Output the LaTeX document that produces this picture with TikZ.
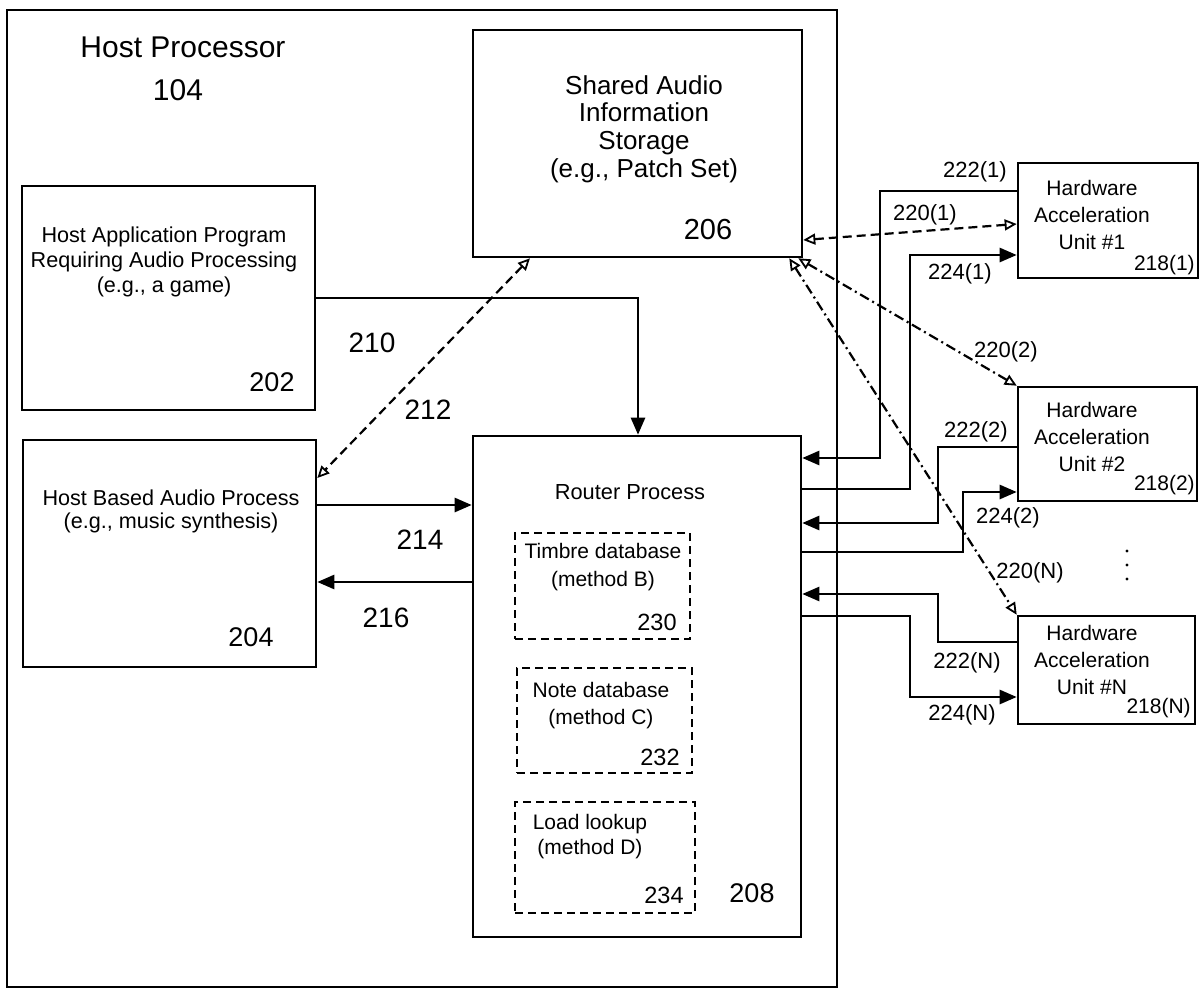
\documentclass[tikz,border=0pt]{standalone}
\usepackage{fontspec}
\setmainfont{Liberation Sans}
\usetikzlibrary{arrows.meta}
\newcommand\fsz[2]{\fontsize{#1}{#2}\selectfont}
\begin{document}
\begin{tikzpicture}[x=1pt,y=-1pt,line width=2.6pt,
  box/.style={draw,rectangle,inner sep=0pt},
  dbox/.style={draw,rectangle,inner sep=0pt,line width=2.2pt,dash pattern=on 8pt off 5pt},
  txt/.style={inner sep=0pt,align=center},
  lbl/.style={inner sep=0pt,font=\fsz{22}{26}},
  num/.style={inner sep=0pt,font=\fsz{27}{30}},
  arr/.style={-{Triangle[length=17pt,width=14pt]}},
  oarr/.style={{Triangle[open,length=12pt,width=11pt,line width=1.8pt]}-{Triangle[open,length=12pt,width=11pt,line width=1.8pt]},line width=2.2pt},
  dsh/.style={dash pattern=on 9pt off 5pt},
  dshdot/.style={dash pattern=on 10pt off 4pt on 2pt off 4pt}]
\useasboundingbox (0,0) rectangle (1200,990);
\fill[white] (0,0) rectangle (1200,990);

% boxes
\node[box,minimum width=830pt,minimum height=977pt] (host) at (422,498.5) {};
\node[box,minimum width=329pt,minimum height=227pt] (n206) at (637.5,143.5) {};
\node[box,minimum width=293pt,minimum height=224pt] (n202) at (168.5,298) {};
\node[box,minimum width=293pt,minimum height=227pt] (n204) at (169.5,553.5) {};
\node[box,minimum width=328pt,minimum height=501pt] (n208) at (637,686.5) {};
\node[dbox,minimum width=175pt,minimum height=106pt] (n230) at (602.5,586) {};
\node[dbox,minimum width=175pt,minimum height=105pt] (n232) at (604.5,720.5) {};
\node[dbox,minimum width=180pt,minimum height=111pt] (n234) at (605,857.5) {};
\node[box,minimum width=180pt,minimum height=115pt] (hw1) at (1108,220.5) {};
\node[box,minimum width=179pt,minimum height=114pt] (hw2) at (1107.5,444) {};
\node[box,minimum width=177pt,minimum height=108pt] (hwN) at (1106.5,670) {};

% texts
\node[txt,font=\fsz{30}{34}] (tHost) at (183,47) {Host Processor};
\node[txt,font=\fsz{30}{34}] (t104) at (178,90) {104};
\node[txt,font=\fsz{26}{27.7}] (t206a) at (644,129) {Shared Audio\\Information\\Storage\\(e.g., Patch Set)};
\node[txt,font=\fsz{29}{32}] (t206) at (708,230) {206};
\node[txt,font=\fsz{21.6}{25}] (t202a) at (164,262) {Host Application Program\\Requiring Audio Processing\\(e.g., a game)};
\node[num] (t202) at (272,382) {202};
\node[txt,font=\fsz{21.6}{23}] (t204a) at (171,511) {Host Based Audio Process\\(e.g., music synthesis)};
\node[num] (t204) at (251,637) {204};
\node[txt,font=\fsz{21.8}{26}] (tRouter) at (630,492) {Router Process};
\node[txt,font=\fsz{21}{28}] (t230a) at (603,567) {Timbre database\\(method B)};
\node[txt,font=\fsz{23.5}{26}] (t230) at (657,622) {230};
\node[txt,font=\fsz{21}{27}] (t232a) at (601,706) {Note database\\(method C)};
\node[txt,font=\fsz{23.5}{26}] (t232) at (660,757) {232};
\node[txt,font=\fsz{21}{25}] (t234a) at (590,837) {Load lookup\\(method D)};
\node[txt,font=\fsz{23.5}{26}] (t234) at (664,895) {234};
\node[num] (t208) at (752,893) {208};
\node[txt,font=\fsz{21}{27}] (thw1) at (1092,215) {Hardware\\Acceleration\\Unit \#1};
\node[txt,font=\fsz{21}{27}] (thw2) at (1092,436.5) {Hardware\\Acceleration\\Unit \#2};
\node[txt,font=\fsz{21}{27}] (thwN) at (1092,660) {Hardware\\Acceleration\\Unit \#N};
\node[lbl,anchor=east,font=\fsz{21}{24}] (t2181) at (1196,265) {218(1)};
\node[lbl,anchor=east,font=\fsz{21}{24}] (t2182) at (1196,485) {218(2)};
\node[lbl,anchor=east,font=\fsz{21}{24}] (t218N) at (1192,708) {218(N)};

% connector labels
\node[txt,font=\fsz{28}{30}] (l210) at (372,343) {210};
\node[txt,font=\fsz{28}{30}] (l212) at (428,410) {212};
\node[txt,font=\fsz{28}{30}] (l214) at (420,540) {214};
\node[txt,font=\fsz{28}{30}] (l216) at (386,618) {216};
\node[lbl] (l2221) at (975,172) {222(1)};
\node[lbl] (l2201) at (925,215) {220(1)};
\node[lbl] (l2241) at (960,274) {224(1)};
\node[lbl] (l2202) at (1006,352) {220(2)};
\node[lbl] (l2222) at (976,432) {222(2)};
\node[lbl] (l2242) at (1008,518) {224(2)};
\node[lbl] (l220N) at (1030,573) {220(N)};
\node[lbl] (l222N) at (967,663) {222(N)};
\node[lbl] (l224N) at (962,715) {224(N)};

% vertical dots
\foreach \yy in {551,565,579} \fill (1127,\yy) circle (1.7pt);

% solid connectors
\draw[arr] (n202.east) -- (638,298) -- (n208.north -| 638,0);
\draw[arr] (n204.east |- 0,505) -- (n208.west |- 0,505);
\draw[arr] (n208.west |- 0,582) -- (n204.east |- 0,582);

\draw[arr] (hw1.west |- 0,191) -- (880,191) -- (880,458) -- (n208.east |- 0,458);
\draw[arr] (n208.east |- 0,489) -- (910,489) -- (910,255) -- (hw1.west |- 0,255);
\draw[arr] (hw2.west |- 0,447) -- (938,447) -- (938,523) -- (n208.east |- 0,523);
\draw[arr] (n208.east |- 0,552) -- (963,552) -- (963,492) -- (hw2.west |- 0,492);
\draw[arr] (hwN.west |- 0,642) -- (938,642) -- (938,594) -- (n208.east |- 0,594);
\draw[arr] (n208.east |- 0,616) -- (910,616) -- (910,697) -- (hwN.west |- 0,697);

% dashed connectors
\draw[oarr,dsh] (n206.south -| 530,0) -- (n204.east |- 0,478);
\draw[oarr,dsh] (n206.east |- 0,240) -- (hw1.west |- 0,224);
\draw[oarr,dshdot] ([xshift=-5pt]n206.south east) -- (hw2.north west);
\draw[oarr,dshdot] ([xshift=-14pt]n206.south east) -- (hwN.north west);
\end{tikzpicture}
\end{document}
